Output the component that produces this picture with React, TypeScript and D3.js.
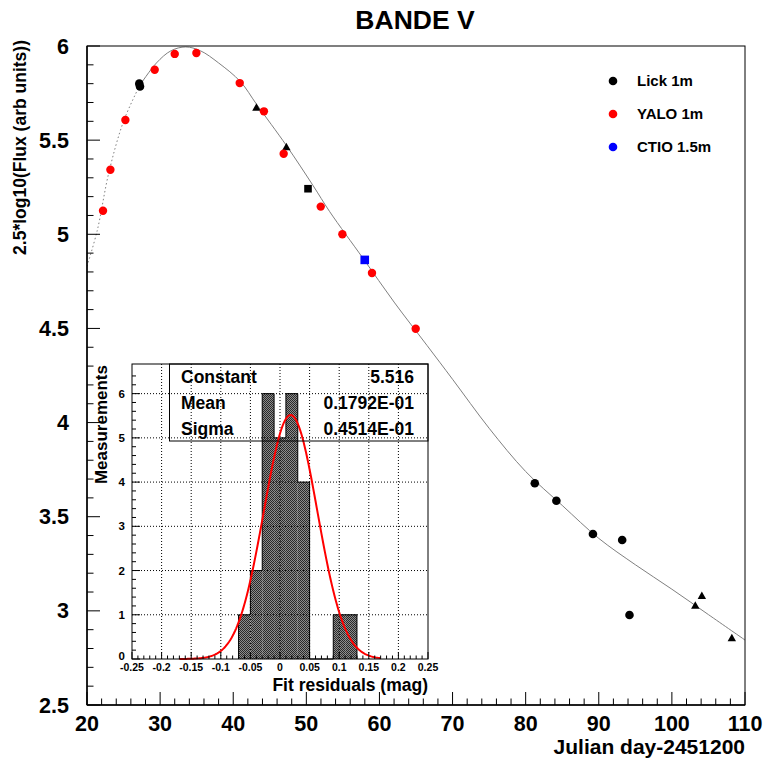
import * as d3 from "d3";

// light curve fit
const curveDays = [20, 21.4, 23, 25, 27.2, 29.5, 31.5, 33.5, 35.5, 38, 41, 43.2, 47.3, 50.9, 53.2, 57.8, 62, 66.5, 70, 75, 80, 85, 90, 95, 100, 105, 110];
const curveMags = [4.83, 5.02, 5.33, 5.6, 5.79, 5.91, 5.975, 5.995, 5.975, 5.91, 5.81, 5.69, 5.47, 5.26, 5.12, 4.87, 4.64, 4.41, 4.23, 3.97, 3.74, 3.56, 3.385, 3.245, 3.115, 2.98, 2.845];
const dottedUntil = 27.2;

// Lick 1m
const lickCircleDays = [27.15, 27.25, 81.25, 84.2, 89.2, 93.2, 94.2];
const lickCircleMags = [5.80, 5.785, 3.678, 3.585, 3.408, 3.376, 2.978];
const lickTriangleDays = [43.17, 47.27, 103.2, 104.1, 108.2];
const lickTriangleMags = [5.674, 5.464, 3.029, 3.081, 2.856];
const lickSquareDays = [50.23];
const lickSquareMags = [5.242];

// YALO 1m
const yaloDays = [22.19, 23.2, 25.25, 29.26, 32.0, 34.96, 40.89, 44.2, 46.9, 51.97, 54.93, 58.98, 64.96];
const yaloMags = [5.125, 5.343, 5.607, 5.874, 5.958, 5.963, 5.803, 5.653, 5.428, 5.147, 5.0, 4.794, 4.498];

// CTIO 1.5m
const ctioDays = [57.99];
const ctioMags = [4.864];

const legendNames = ["Lick 1m", "YALO 1m", "CTIO 1.5m"];
const legendColors = ["#000000", "#ff0000", "#0000ff"];

// residual histogram
const binLows = [-0.07, -0.05, -0.03, -0.01, 0.01, 0.03, 0.05, 0.07, 0.09, 0.11];
const binCounts = [1, 2, 6, 5, 6, 4, 0, 0, 1, 1];
const binWidth = 0.02;
const statNames = ["Constant", "Mean", "Sigma"];
const statValues = ["5.516", "0.1792E-01", "0.4514E-01"];
const gConst = 5.516;
const gMean = 0.01792;
const gSigma = 0.04514;
const fitRange = [-0.17, 0.17];

const insetXTicks = [-0.25, -0.2, -0.15, -0.1, -0.05, 0, 0.05, 0.1, 0.15, 0.2, 0.25];
const insetYTicks = [0, 1, 2, 3, 4, 5, 6];

const W = 764;
const H = 761;
const font = "Liberation Sans, Arial, Helvetica, sans-serif";

export default function App() {
  const x = d3.scaleLinear([20, 110], [87, 745]);
  const y = d3.scaleLinear([2.5, 6], [705, 46]);

  const splitAt = curveDays.indexOf(dottedUntil);
  const curveLine = d3
    .line<number>()
    .x((i) => x(curveDays[i]))
    .y((i) => y(curveMags[i]))
    .curve(d3.curveCatmullRom.alpha(0.5));
  const dottedIdx = d3.range(0, splitAt + 1);
  const solidIdx = d3.range(splitAt, curveDays.length);

  const xMinor = d3.range(20, 110.01, 2);
  const xMajor = d3.range(20, 110.01, 10);
  const yMinor = d3.range(2.5, 6.001, 0.1);
  const yMajor = d3.range(2.5, 6.001, 0.5);

  // inset
  const ix = d3.scaleLinear([-0.25, 0.25], [132, 428]);
  const iy = d3.scaleLinear([0, 6.67], [659, 364]);
  const gauss = (v: number) => gConst * Math.exp(-0.5 * ((v - gMean) / gSigma) ** 2);
  const gaussPts = d3.range(fitRange[0], fitRange[1] + 1e-9, 0.002);
  const gaussLine = d3
    .line<number>()
    .x((v) => ix(v))
    .y((v) => iy(gauss(v)));

  let outline = `M${ix(binLows[0])},${iy(0)}`;
  binLows.forEach((b, i) => {
    outline += `L${ix(b)},${iy(binCounts[i])}L${ix(b + binWidth)},${iy(binCounts[i])}`;
  });
  outline += `L${ix(binLows[binLows.length - 1] + binWidth)},${iy(0)}`;

  const ixMinor = d3.range(-0.25, 0.2501, 0.01);
  const iyMinor = d3.range(0, 6.6, 0.2);
  const fmt = (v: number) => (Math.abs(v) < 1e-9 ? "0" : String(+v.toFixed(2)));

  const tri = (cx: number, cy: number, s: number) =>
    `M${cx},${cy - s}L${cx + s},${cy + s * 0.8}L${cx - s},${cy + s * 0.8}Z`;

  return (
    <svg
      width={W}
      height={H}
      style={{ position: "absolute", left: 0, top: 0, background: "#fff" }}
      fontFamily={font}
      fontWeight="bold"
    >
      <rect width={W} height={H} fill="#fff" />
      <defs>
        <pattern id="checker" width={2} height={2} patternUnits="userSpaceOnUse">
          <rect width={2} height={2} fill="#8c8c8c" />
          <rect width={1} height={1} fill="#2a2a2a" />
          <rect x={1} y={1} width={1} height={1} fill="#2a2a2a" />
        </pattern>
        <clipPath id="frame">
          <rect x={87} y={46} width={658} height={659} />
        </clipPath>
      </defs>

      <text x={415} y={29} textAnchor="middle" fontSize={26.5}>BANDE V</text>

      {/* fit curve */}
      <g clipPath="url(#frame)" fill="none" stroke="#808080" strokeWidth={1}>
        <path d={curveLine(dottedIdx) ?? ""} strokeDasharray="1.5 2.5" />
        <path d={curveLine(solidIdx) ?? ""} />
      </g>

      {/* points */}
      <g fill="#000">
        {lickCircleDays.map((d, i) => (
          <circle key={"lc" + i} cx={x(d)} cy={y(lickCircleMags[i])} r={4.3} />
        ))}
        {lickTriangleDays.map((d, i) => (
          <path key={"lt" + i} d={tri(x(d), y(lickTriangleMags[i]), 4.2)} />
        ))}
        {lickSquareDays.map((d, i) => (
          <rect key={"ls" + i} x={x(d) - 3.8} y={y(lickSquareMags[i]) - 3.8} width={7.6} height={7.6} />
        ))}
      </g>
      <g fill="#ff0000">
        {yaloDays.map((d, i) => (
          <circle key={"y" + i} cx={x(d)} cy={y(yaloMags[i])} r={4.2} />
        ))}
      </g>
      <g fill="#0000ff">
        {ctioDays.map((d, i) => (
          <rect key={"c" + i} x={x(d) - 4.3} y={y(ctioMags[i]) - 4.3} width={8.6} height={8.6} />
        ))}
      </g>

      {/* legend */}
      {legendNames.map((n, i) => (
        <g key={n}>
          <circle cx={613} cy={81 + i * 33} r={4.3} fill={legendColors[i]} />
          <text x={637} y={86 + i * 33} fontSize={15}>{n}</text>
        </g>
      ))}

      {/* frame and axes */}
      <rect x={87} y={46} width={658} height={659} fill="none" stroke="#000" strokeWidth={1} />
      <line x1={87} x2={87} y1={46} y2={705} stroke="#000" strokeWidth={1.5} />
      <line x1={87} x2={745} y1={705} y2={705} stroke="#000" strokeWidth={1.5} />
      <g stroke="#000" strokeWidth={1}>
        {xMinor.map((v) => (
          <line key={"xm" + v} x1={x(v)} x2={x(v)} y1={705} y2={xMajor.some((m) => Math.abs(m - v) < 1e-6) ? 692 : 698.5} />
        ))}
        {yMinor.map((v) => (
          <line key={"ym" + v} y1={y(v)} y2={y(v)} x1={87} x2={yMajor.some((m) => Math.abs(m - v) < 1e-6) ? 100 : 93.5} />
        ))}
      </g>
      <g fontSize={21.5} textAnchor="middle">
        {xMajor.map((v) => (
          <text key={"xl" + v} x={x(v)} y={731}>{v}</text>
        ))}
      </g>
      <g fontSize={21.5} textAnchor="end">
        {yMajor.map((v) => (
          <text key={"yl" + v} x={69} y={y(v) + 7.5}>{v}</text>
        ))}
      </g>
      <text x={745} y={754} textAnchor="end" fontSize={21}>Julian day-2451200</text>
      <text transform="translate(26,40) rotate(-90)" textAnchor="end" fontSize={17.5}>
        2.5*log10(Flux (arb units))
      </text>

      {/* inset histogram */}
      <rect x={132} y={364} width={296} height={295} fill="#fff" />
      {binLows.map((b, i) =>
        binCounts[i] > 0 ? (
          <rect
            key={"b" + i}
            x={ix(b)}
            y={iy(binCounts[i])}
            width={ix(b + binWidth) - ix(b)}
            height={iy(0) - iy(binCounts[i])}
            fill="url(#checker)"
          />
        ) : null
      )}
      <path d={outline} fill="none" stroke="#000" strokeWidth={1} />
      <g stroke="#000" strokeWidth={1} strokeDasharray="1 2">
        {insetXTicks.slice(1, -1).map((v) => (
          <line key={"gx" + v} x1={ix(v)} x2={ix(v)} y1={364} y2={659} />
        ))}
        {insetYTicks.slice(1).map((v) => (
          <line key={"gy" + v} x1={132} x2={428} y1={iy(v)} y2={iy(v)} />
        ))}
      </g>
      <path d={gaussLine(gaussPts) ?? ""} fill="none" stroke="#ff0000" strokeWidth={2} />

      {/* stats box */}
      <rect x={169.5} y={364} width={258.5} height={77} fill="none" stroke="#000" strokeWidth={1} />
      <g fontSize={17.5}>
        {statNames.map((n, i) => (
          <g key={n}>
            <text x={181} y={383 + i * 26}>{n}</text>
            <text x={414} y={383 + i * 26} textAnchor="end">{statValues[i]}</text>
          </g>
        ))}
      </g>

      <rect x={132} y={364} width={296} height={295} fill="none" stroke="#000" strokeWidth={1} />
      <g stroke="#000" strokeWidth={1}>
        {ixMinor.map((v, i) => (
          <line key={"ixt" + i} x1={ix(v)} x2={ix(v)} y1={659} y2={i % 5 === 0 ? 652 : 655.5} />
        ))}
        {iyMinor.map((v, i) => (
          <line key={"iyt" + i} y1={iy(v)} y2={iy(v)} x1={132} x2={i % 5 === 0 ? 140 : 136} />
        ))}
      </g>
      <g fontSize={10.5} textAnchor="middle">
        {insetXTicks.map((v) => (
          <text key={"ixl" + v} x={ix(v)} y={670.5}>{fmt(v)}</text>
        ))}
      </g>
      <g fontSize={11.5} textAnchor="end">
        {insetYTicks.map((v) => (
          <text key={"iyl" + v} x={125} y={iy(v) + (v === 0 ? 1 : 4)}>{v}</text>
        ))}
      </g>
      <text x={428} y={691} textAnchor="end" fontSize={17.5}>Fit residuals (mag)</text>
      <text transform="translate(107,365) rotate(-90)" textAnchor="end" fontSize={17}>
        Measurements
      </text>
    </svg>
  );
}
